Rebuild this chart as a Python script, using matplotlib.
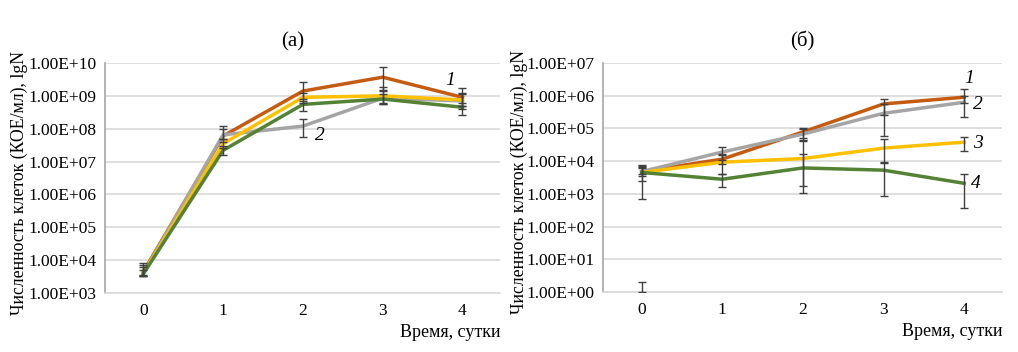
import matplotlib
matplotlib.use("Agg")
import matplotlib.pyplot as plt
from matplotlib.ticker import FixedLocator, FixedFormatter, NullLocator

plt.rcParams['font.family'] = ['Liberation Serif', 'DejaVu Serif']

days = [0, 1, 2, 3, 4]
series_names = ["1", "2", "3", "4"]
colors = ["#C55A11", "#A5A5A5", "#FFC000", "#548235"]

# Panel (a)
a_vals = [
    [4.4e3, 6.0e7, 1.4e9, 3.7e9, 9.0e8],
    [4.0e3, 6.5e7, 1.2e8, 8.5e8, 7.0e8],
    [4.0e3, 3.5e7, 9.0e8, 1.0e9, 7.5e8],
    [3.8e3, 2.2e7, 5.5e8, 8.0e8, 4.5e8],
]
a_lo = [
    [3.6e3, 4.0e7, 8.0e8, 1.5e9, 5.0e8],
    [3.4e3, 5.0e7, 5.5e7, 5.5e8, 4.0e8],
    [3.4e3, 2.5e7, 6.0e8, 6.0e8, 5.0e8],
    [3.2e3, 1.6e7, 3.5e8, 5.5e8, 2.6e8],
]
a_hi = [
    [8.0e3, 1.2e8, 2.6e9, 7.5e9, 1.7e9],
    [7.0e3, 1.0e8, 2.0e8, 1.8e9, 1.2e9],
    [6.0e3, 5.0e7, 1.2e9, 1.4e9, 1.1e9],
    [5.0e3, 3.0e7, 7.0e8, 1.1e9, 6.0e8],
]
a_ticks = [1e3, 1e4, 1e5, 1e6, 1e7, 1e8, 1e9, 1e10]
a_ticklabels = ["1.00E+03", "1.00E+04", "1.00E+05", "1.00E+06",
                "1.00E+07", "1.00E+08", "1.00E+09", "1.00E+10"]

# Panel (б)
b_vals = [
    [4.8e3, 1.15e4, 7.8e4, 5.6e5, 9.0e5],
    [4.8e3, 1.9e4, 6.7e4, 2.9e5, 6.3e5],
    [4.5e3, 9.3e3, 1.2e4, 2.5e4, 3.8e4],
    [4.5e3, 2.8e3, 6.2e3, 5.3e3, 2.1e3],
]
b_lo = [
    [4.0e3, 8.0e3, 5.0e4, 2.6e5, 6.0e5],
    [2.5e3, 1.1e4, 4.0e4, 6.0e4, 2.2e5],
    [3.5e3, 4.0e3, 1.8e3, 9.3e3, 2.1e4],
    [7.0e2, 1.6e3, 1.1e3, 8.5e2, 3.6e2],
]
b_hi = [
    [7.0e3, 1.6e4, 1.0e5, 7.8e5, 1.6e6],
    [7.5e3, 2.7e4, 9.5e4, 5.5e5, 1.0e6],
    [6.5e3, 1.5e4, 4.5e4, 4.8e4, 5.4e4],
    [6.0e3, 4.0e3, 1.7e4, 9.0e3, 4.0e3],
]
b_extra_x = [0]
b_extra_lo = [1.0]
b_extra_hi = [2.0]
b_ticks = [1e0, 1e1, 1e2, 1e3, 1e4, 1e5, 1e6, 1e7]
b_ticklabels = ["1.00E+00", "1.00E+01", "1.00E+02", "1.00E+03",
                "1.00E+04", "1.00E+05", "1.00E+06", "1.00E+07"]

titles = ["(а)", "(б)"]
ylabel = "Численность клеток (КОЕ/мл), lgN"
xlabel = "Время, сутки"

fig = plt.figure(figsize=(10.18, 3.52), dpi=100)
axA = fig.add_axes([105/1018, 1-293/352, (500-105)/1018, (293-63)/352])
axB = fig.add_axes([603/1018, 1-292/352, (1002-603)/1018, (292-63)/352])

ERR_COLOR = "#404040"


def style(ax, ticks, labels, title, title_x, ylabel_x):
    ax.set_yscale('log')
    ax.set_ylim(ticks[0], ticks[-1])
    ax.yaxis.set_major_locator(FixedLocator(ticks))
    ax.yaxis.set_major_formatter(FixedFormatter(labels))
    ax.yaxis.set_minor_locator(NullLocator())
    ax.set_xlim(-0.48, 4.47)
    ax.set_xticks(days)
    ax.set_xticklabels([str(d) for d in days])
    ax.grid(axis='y', color='#D9D9D9', linewidth=1.2)
    ax.set_axisbelow(True)
    for s in ['top', 'right']:
        ax.spines[s].set_visible(False)
    ax.spines['left'].set_color('#A6A6A6')
    ax.spines['bottom'].set_color('#D9D9D9')
    ax.spines['left'].set_linewidth(1.2)
    ax.spines['bottom'].set_linewidth(1.2)
    ax.tick_params(axis='both', length=0, labelsize=12.5, pad=6)
    ax.tick_params(axis='x', pad=7)
    ax.set_title(title, fontsize=15, pad=12, x=title_x)
    ax.set_ylabel(ylabel, fontsize=12.8)
    ax.yaxis.set_label_coords(ylabel_x, 0.48)
    ax.set_xlabel(xlabel, fontsize=13, loc='right', labelpad=4)


def draw(ax, vals, lo, hi):
    for v, c in zip(vals, colors):
        ax.plot(days, v, color=c, linewidth=2.5, zorder=3, solid_joinstyle='miter')
    for v, l, h in zip(vals, lo, hi):
        yerr = [[max(vi - li, 0) for vi, li in zip(v, l)],
                [max(hi_ - vi, 0) for vi, hi_ in zip(v, h)]]
        ax.errorbar(days, v, yerr=yerr, fmt='none', ecolor=ERR_COLOR,
                    elinewidth=1.0, capsize=3, capthick=1.0, zorder=4)


draw(axA, a_vals, a_lo, a_hi)
style(axA, a_ticks, a_ticklabels, titles[0], 0.476, -0.195)
axA.text(3.85, 10**9.48, "1", fontsize=14, style='italic', ha='center', va='center')
axA.text(2.21, 10**7.8, "2", fontsize=14, style='italic', ha='center', va='center')

draw(axB, b_vals, b_lo, b_hi)
for x, l, h in zip(b_extra_x, b_extra_lo, b_extra_hi):
    axB.errorbar([x], [l], yerr=[[0], [h - l]], fmt='none', ecolor=ERR_COLOR,
                 elinewidth=1.0, capsize=3, capthick=1.0, zorder=4)
style(axB, b_ticks, b_ticklabels, titles[1], 0.5, -0.188)
axB.text(4.06, 10**6.54, "1", fontsize=14, style='italic', ha='center', va='center')
axB.text(4.17, 10**5.72, "2", fontsize=14, style='italic', ha='center', va='center')
axB.text(4.17, 10**4.55, "3", fontsize=14, style='italic', ha='center', va='center')
axB.text(4.15, 10**3.33, "4", fontsize=14, style='italic', ha='center', va='center')

fig.savefig("out.png", dpi=100)
